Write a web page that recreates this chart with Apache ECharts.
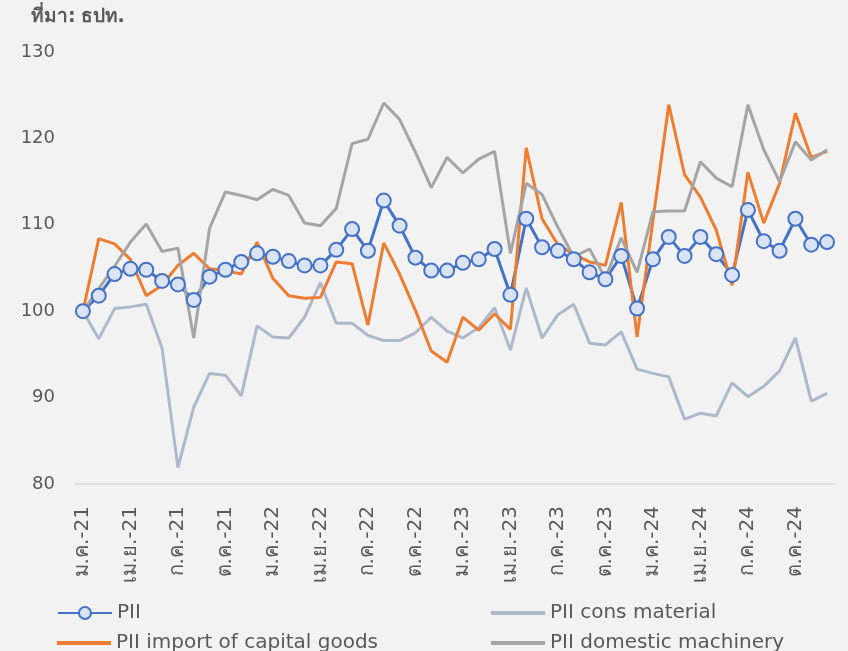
<!DOCTYPE html>
<html><head><meta charset="utf-8">
<script src="https://cdn.jsdelivr.net/npm/echarts@6/dist/echarts.min.js"></script>
<style>html,body{margin:0;padding:0;background:#f2f2f2;}#c{width:848px;height:651px;}</style>
</head><body><div id="c"></div>
<script>
const years = ['21','22','23','24'];
const monthNames = ['ม.ค.','ก.พ.','มี.ค.','เม.ย.','พ.ค.','มิ.ย.','ก.ค.','ส.ค.','ก.ย.','ต.ค.','พ.ย.','ธ.ค.'];
const categories = [];
years.forEach(y => monthNames.forEach(m => categories.push(m + '-' + y)));

const yTicks = [80, 90, 100, 110, 120, 130];

const pii = [100,101.8,104.3,104.9,104.8,103.5,103.1,101.3,104.0,104.8,105.7,106.7,
  106.3,105.8,105.3,105.3,107.1,109.5,107.0,112.8,109.9,106.2,104.7,104.7,
  105.6,106.0,107.2,101.9,110.7,107.4,107.0,106.0,104.5,103.7,106.4,100.3,
  106.0,108.6,106.4,108.6,106.6,104.2,111.7,108.1,107.0,110.7,107.7,108.0];
const consMaterial = [100,96.8,100.3,100.5,100.8,95.7,81.9,88.9,92.8,92.6,90.2,98.3,
  97.0,96.9,99.3,103.3,98.6,98.6,97.2,96.6,96.6,97.5,99.3,97.7,
  96.9,98.1,100.4,95.5,102.7,96.9,99.6,100.8,96.3,96.1,97.6,93.3,
  92.8,92.4,87.5,88.2,87.9,91.7,90.1,91.3,93.1,96.9,89.6,90.5];
const importCapital = [100,108.4,107.8,106.0,101.8,103.0,105.3,106.7,104.9,104.7,104.3,108.0,
  103.8,101.8,101.5,101.6,105.7,105.5,98.4,107.9,104.3,100.1,95.4,94.1,
  99.3,97.8,99.7,97.9,118.9,110.7,107.7,106.6,105.7,105.3,112.6,97.0,
  110.5,123.9,115.8,113.2,109.4,103.0,116.1,110.2,114.8,122.9,117.8,118.5];
const domesticMachinery = [100,102.6,105.2,108.0,110.1,106.9,107.3,96.9,109.6,113.8,113.4,112.9,
  114.1,113.4,110.2,109.9,111.9,119.4,119.9,124.1,122.2,118.4,114.3,117.8,
  116.0,117.6,118.5,106.7,114.8,113.5,109.7,106.3,107.2,103.8,108.5,104.5,
  111.5,111.6,111.6,117.3,115.4,114.4,123.9,118.7,115.0,119.6,117.5,118.7];

const FONT = '"DejaVu Sans", "Noto Sans", sans-serif';
const chart = echarts.init(document.getElementById('c'));
const legendText = {color:'#595959', fontSize:20, fontFamily:FONT};
function lg(name, left, top, lineColor){
  const o = {data:[name], left:left, top:top, itemWidth:54, itemHeight:15, itemGap:4, textStyle:legendText, selectedMode:false};
  if (lineColor) {
    o.data = [{name:name, icon:'rect', itemStyle:{color:lineColor}}];
    o.itemHeight = 4;
  }
  return o;
}
chart.setOption({
  backgroundColor:'#f2f2f2',
  animation:false,
  title:{text:'{b|ที่มา:} {n|ธปท.}', left:26, top:3, textStyle:{rich:{
    b:{fontSize:19, fontWeight:'bold', color:'#595959', fontFamily:FONT},
    n:{fontSize:19, color:'#595959', fontFamily:FONT}}}},
  grid:{left:75, right:13, top:52, bottom:167},
  legend:[
    lg('PII', 52, 598),
    lg('PII cons material', 486, 598, '#adb9ca'),
    lg('PII import of capital goods', 52, 628, '#ed7d31'),
    lg('PII domestic machinery', 486, 628, '#a5a5a5')
  ],
  xAxis:{type:'category', data:categories, boundaryGap:true,
    axisLine:{lineStyle:{color:'#d9d9d9', width:1.5}}, axisTick:{show:false},
    axisLabel:{interval:2, rotate:90, margin:22, color:'#595959', fontSize:20, fontFamily:FONT}},
  yAxis:{type:'value', min:yTicks[0], max:yTicks[yTicks.length-1], interval:10,
    splitLine:{show:false}, axisLine:{show:false}, axisTick:{show:false},
    axisLabel:{margin:20, color:'#595959', fontSize:18, fontFamily:FONT}},
  series:[
    {name:'PII', type:'line', data:pii, symbol:'circle', symbolSize:14, showAllSymbol:true,
      lineStyle:{color:'#4472c4', width:3}, itemStyle:{color:'#dae3f3', borderColor:'#4472c4', borderWidth:2}},
    {name:'PII cons material', type:'line', data:consMaterial, symbol:'none',
      lineStyle:{color:'#adb9ca', width:3}, itemStyle:{color:'#adb9ca'}},
    {name:'PII import of capital goods', type:'line', data:importCapital, symbol:'none',
      lineStyle:{color:'#ed7d31', width:3}, itemStyle:{color:'#ed7d31'}},
    {name:'PII domestic machinery', type:'line', data:domesticMachinery, symbol:'none',
      lineStyle:{color:'#a5a5a5', width:3}, itemStyle:{color:'#a5a5a5'}}
  ]
});
</script></body></html>
